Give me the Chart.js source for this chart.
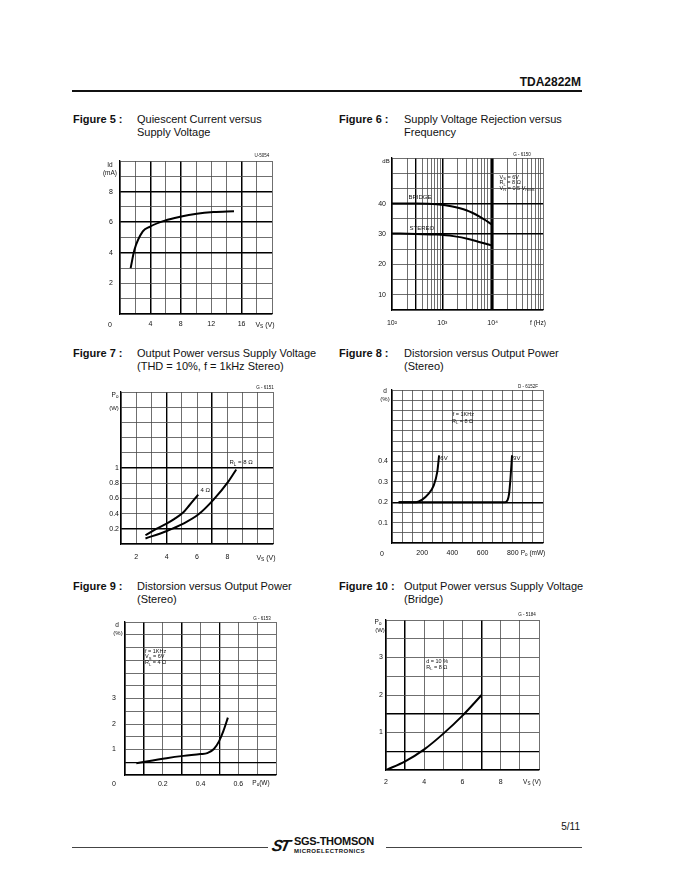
<!DOCTYPE html>
<html>
<head>
<meta charset="utf-8">
<script src="https://cdn.jsdelivr.net/npm/chart.js@4.4.1/dist/chart.umd.min.js"></script>
<style>
  body { margin: 0; width: 680px; height: 880px; background: #fff; position: relative; overflow: hidden;
         font-family: "Liberation Sans", Arial, sans-serif; color: #111; }
  .t { position: absolute; white-space: nowrap; }
  .cap { font-size: 11px; line-height: 13px; }
  .cap b { position: absolute; left: 0; }
  .cap span { position: absolute; }
  canvas { position: absolute; }
  sub { font-size: 70%; vertical-align: -1px; line-height: 0; }
</style>
</head>
<body>

<div class="t" style="right:99px; top:75px; font-size:12px; font-weight:bold;">TDA2822M</div>
<div style="position:absolute; left:72px; top:90px; width:510px; height:1.5px; background:#111;"></div>

<div class="t cap" style="left:73px; top:113px;"><b>Figure 5 :</b><span style="left:64px;">Quiescent Current versus<br>Supply Voltage</span></div>
<div class="t cap" style="left:339px; top:113px;"><b>Figure 6 :</b><span style="left:65px;">Supply Voltage Rejection versus<br>Frequency</span></div>
<div class="t cap" style="left:73px; top:347px;"><b>Figure 7 :</b><span style="left:64px;">Output Power versus Supply Voltage<br>(THD = 10%, f = 1kHz Stereo)</span></div>
<div class="t cap" style="left:339px; top:347px;"><b>Figure 8 :</b><span style="left:65px;">Distorsion versus Output Power<br>(Stereo)</span></div>
<div class="t cap" style="left:73px; top:580px;"><b>Figure 9 :</b><span style="left:64px;">Distorsion versus Output Power<br>(Stereo)</span></div>
<div class="t cap" style="left:339px; top:580px;"><b>Figure 10 :</b><span style="left:65px;">Output Power versus Supply Voltage<br>(Bridge)</span></div>

<div class="t" style="right:100px; top:821px; font-size:10px;">5/11</div>
<div style="position:absolute; left:72px; top:847px; width:196px; height:1px; background:#444;"></div>
<div style="position:absolute; left:386px; top:847px; width:196px; height:1px; background:#444;"></div>
<div class="t" style="left:272px; top:837px; font-size:16px; font-weight:bold; font-style:italic; letter-spacing:-2px; transform:skewX(-12deg);">ST</div>
<div class="t" style="left:294px; top:836px; font-size:11px; font-weight:bold; line-height:11px; letter-spacing:-0.3px;">SGS-THOMSON</div>
<div class="t" style="left:294px; top:848px; font-size:6px; font-weight:bold; line-height:7px; letter-spacing:0.5px;">MICROELECTRONICS</div>

<script>
// Figure 5: quiescent current vs supply voltage
var f5Vs = [1.4, 1.9, 3.0, 3.9, 5.9, 7.9, 10.1, 12.3, 15.0];
var f5Id = [3.0, 4.2, 5.4, 5.7, 6.1, 6.35, 6.55, 6.66, 6.72];
var f5XLabels = [4, 8, 12, 16];
var f5YLabels = [2, 4, 6, 8];

// Figure 6: SVR vs frequency
var f6BridgeF = [100, 300, 770, 1500, 3000, 5500, 10000];
var f6BridgeDb = [40, 40, 39.8, 39.1, 37.8, 35.7, 33.0];
var f6StereoF = [100, 300, 770, 1650, 3450, 10000];
var f6StereoDb = [30.2, 30.0, 29.8, 29.3, 28.3, 26.1];
var f6XLabels = [100, 1000, 10000];
var f6XText = ['10²', '10³', '10⁴'];
var f6YLabels = [10, 20, 30, 40];

// Figure 7: output power vs supply voltage (stereo)
var f7Vs4 = [2.61, 3.32, 3.97, 4.52, 5.07, 5.5, 6.08];
var f7Po4 = [0.115, 0.20, 0.265, 0.33, 0.41, 0.51, 0.65];
var f7Vs8 = [2.61, 3.97, 5.07, 6.08, 7.09, 8.07, 8.58];
var f7Po8 = [0.072, 0.168, 0.265, 0.387, 0.584, 0.824, 0.98];
var f7XLabels = [2, 4, 6, 8];
var f7YLabels = [0.2, 0.4, 0.6, 0.8, 1];
var f7YText = ['0.2', '0.4', '0.6', '0.8', '1'];

// Figure 8: distortion vs output power (stereo, 8 ohm)
var f8Po6 = [44, 160, 200, 240, 275, 300, 312];
var f8D6 = [0.2, 0.2, 0.213, 0.24, 0.28, 0.35, 0.43];
var f8Po9 = [44, 160, 750, 765, 775, 785, 795];
var f8D9 = [0.2, 0.2, 0.2, 0.21, 0.24, 0.32, 0.43];
var f8XLabels = [200, 400, 600, 800];
var f8YLabels = [0.1, 0.2, 0.3, 0.4];

// Figure 9: distortion vs output power (stereo, 4 ohm)
var f9Po = [0.06, 0.22, 0.31, 0.40, 0.436, 0.471, 0.498, 0.521, 0.545];
var f9D = [0.46, 0.66, 0.75, 0.82, 0.86, 1.02, 1.32, 1.72, 2.25];
var f9XLabels = [0.2, 0.4, 0.6];
var f9YLabels = [1, 2, 3];

// Figure 10: output power vs supply voltage (bridge)
var f10Vs = [2, 3, 4, 5, 6, 7];
var f10Po = [0, 0.23, 0.55, 0.97, 1.45, 2.0];
var f10XLabels = [2, 4, 6, 8];
var f10YLabels = [1, 2, 3];

var FONT = '"Liberation Sans", Arial, sans-serif';

function steps(a, b, s) {
  var out = [];
  for (var i = 0; a + i * s <= b + 1e-9; i++) out.push(+(a + i * s).toFixed(6));
  return out;
}
function near(list, v) {
  for (var i = 0; i < list.length; i++) if (Math.abs(list[i] - v) < 1e-6 * Math.max(1, Math.abs(v))) return i;
  return -1;
}

function drawRich(ctx, text, x, y, size) {
  var parts = text.split(/(_\{[^}]*\})/);
  ctx.textBaseline = 'middle';
  ctx.textAlign = 'left';
  ctx.fillStyle = '#111';
  parts.forEach(function (p) {
    if (!p) return;
    var sub = p.indexOf('_{') === 0;
    var t = sub ? p.slice(2, -1) : p;
    ctx.font = (sub ? size * 0.75 : size) + 'px ' + FONT;
    ctx.fillText(t, x, sub ? y + size * 0.3 : y);
    x += ctx.measureText(t).width;
  });
}

Chart.register({
  id: 'notes',
  afterDatasetsDraw: function (chart, args, opts) {
    var ctx = chart.ctx;
    ctx.save();
    (opts.items || []).forEach(function (n) {
      drawRich(ctx, n.text, chart.scales.x.getPixelForValue(n.x), chart.scales.y.getPixelForValue(n.y), n.size || 6);
    });
    ctx.restore();
  }
});

function axis(o, horiz) {
  var major = o.major || [];
  function heavy(v) {
    for (var i = 0; i < major.length; i++) if (Math.abs(major[i][0] - v) < 1e-6 * Math.max(1, v)) return major[i][1];
    return 0;
  }
  return {
    type: o.type || 'linear',
    min: o.grid[0],
    max: o.grid[o.grid.length - 1],
    border: { display: true, color: '#000', width: 1.3 },
    grid: {
      drawTicks: false,
      color: function (c) { return heavy(c.tick.value) ? '#000' : '#4a4a4a'; },
      lineWidth: function (c) { return heavy(c.tick.value) || 0.8; }
    },
    afterBuildTicks: function (s) { s.ticks = o.grid.map(function (v) { return { value: v }; }); },
    afterFit: function (s) {
      if (horiz) s.height = 18; else s.width = 20;
      s.paddingLeft = s.paddingRight = s.paddingTop = s.paddingBottom = 0;
    },
    ticks: {
      autoSkip: false, maxRotation: 0, minRotation: 0, padding: o.pad, color: '#111',
      font: { family: FONT, size: 7 },
      callback: function (v) {
        var i = near(o.labels, v);
        return i < 0 ? '' : (o.text ? o.text[i] : String(o.labels[i]));
      }
    }
  };
}

function makeChart(box, xo, yo, series, notes) {
  var cv = document.createElement('canvas');
  var w = box[2] - box[0] + 50, h = box[3] - box[1] + 37;
  cv.width = w; cv.height = h;
  cv.style.left = (box[0] - 30) + 'px';
  cv.style.top = (box[1] - 12) + 'px';
  cv.style.width = w + 'px';
  cv.style.height = h + 'px';
  document.body.appendChild(cv);
  return new Chart(cv, {
    type: 'line',
    data: {
      datasets: series.map(function (s) {
        return {
          data: s[0].map(function (x, i) { return { x: x, y: s[1][i] }; }),
          borderColor: '#000', borderWidth: 2, pointRadius: 0,
          cubicInterpolationMode: 'monotone', fill: false
        };
      })
    },
    options: {
      responsive: false, animation: false,
      layout: { padding: { left: 10, top: 12, right: 20, bottom: 7 } },
      plugins: { legend: { display: false }, tooltip: { enabled: false }, notes: { items: notes } },
      scales: { x: axis(xo, true), y: axis(yo, false) }
    }
  });
}

function label(html, x, y, size, center) {
  var d = document.createElement('div');
  d.className = 't';
  d.innerHTML = html;
  d.style.fontSize = size + 'px';
  d.style.lineHeight = '1';
  d.style.left = x + 'px';
  d.style.top = y + 'px';
  d.style.transform = center ? 'translate(-50%,-50%)' : 'translate(0,-50%)';
  document.body.appendChild(d);
}

// ---- Figure 5
makeChart([120, 161, 272, 314],
  { grid: steps(0, 20, 2), labels: f5XLabels, pad: 6, major: [[4, 1.5], [8, 1.5], [16, 1.5]] },
  { grid: steps(0, 10, 1), labels: f5YLabels, pad: 7, major: [[4, 1.5], [6, 1.5], [8, 1.5]] },
  [[f5Vs, f5Id]], []);
label('Id', 110, 165, 6.5, true);
label('(mA)', 110, 173, 6.5, true);
label('0', 110, 324, 7, true);
label('V<sub>S</sub> (V)', 265, 324, 7, true);
label('U-5054', 262, 156, 4.5, true);

// ---- Figure 6
var f6Grid = [];
[100, 1000, 10000].forEach(function (d) { for (var m = 1; m <= 9; m++) f6Grid.push(m * d); });
f6Grid.push(100000);
makeChart([392, 158, 543, 310],
  { type: 'logarithmic', grid: f6Grid, labels: f6XLabels, text: f6XText, pad: 9,
    major: [[300, 1.4], [1000, 1.5], [10000, 2.6]] },
  { grid: steps(5, 55, 5), labels: f6YLabels, pad: 6, major: [[30, 1.5], [40, 1.5]] },
  [[f6BridgeF, f6BridgeDb], [f6StereoF, f6StereoDb]],
  [
    { x: 213, y: 42.2, text: 'BRIDGE' },
    { x: 223, y: 32.0, text: 'STEREO' },
    { x: 13700, y: 48.6, text: 'V_{S} = 6V', size: 5.5 },
    { x: 13700, y: 46.8, text: 'R_{L} = 8 Ω', size: 5.5 },
    { x: 13700, y: 44.9, text: 'V_{R} = 0.5 V_{RMS}', size: 5.5 }
  ]);
label('dB', 386, 161, 6, true);
label('f (Hz)', 538, 323, 6.5, true);
label('G - 6150', 522, 155, 4.5, true);

// ---- Figure 7
makeChart([121, 392, 273, 544],
  { grid: steps(1, 11, 1), labels: f7XLabels, pad: 9, major: [[4, 1.4], [7, 1.5]] },
  { grid: steps(0, 2, 0.2), labels: f7YLabels, text: f7YText, pad: 2, major: [[0.2, 1.4], [1, 1.5]] },
  [[f7Vs4, f7Po4], [f7Vs8, f7Po8]],
  [
    { x: 6.23, y: 0.70, text: '4 Ω' },
    { x: 8.14, y: 1.07, text: 'R_{L} = 8 Ω' }
  ]);
label('P<sub>o</sub>', 115, 395, 6.5, true);
label('(W)', 114, 408, 6, true);
label('V<sub>S</sub> (V)', 266, 556.5, 7, true);
label('G - 6151', 265, 388, 4.5, true);

// ---- Figure 8
var f8Grid = [];
for (var i = 0; i <= 15; i++) f8Grid.push(i * 1000 / 15);
makeChart([392, 390, 543, 543],
  { grid: f8Grid, labels: f8XLabels, pad: 6, major: [] },
  { grid: steps(0, 0.75, 0.05), labels: f8YLabels, pad: 4, major: [[0.2, 1.4]] },
  [[f8Po6, f8D6], [f8Po9, f8D9]],
  [
    { x: 320, y: 0.413, text: '6V' },
    { x: 802, y: 0.413, text: '9V' },
    { x: 402, y: 0.628, text: 'f = 1KHz', size: 5.5 },
    { x: 397, y: 0.595, text: 'R_{L} = 8 Ω', size: 5.5 }
  ]);
label('d', 385, 391, 6.5, true);
label('(%)', 385, 399, 6, true);
label('0', 382, 553, 7, true);
label('P<sub>o</sub> (mW)', 533, 553, 6.5, true);
label('D - 6152F', 528, 387, 4.5, true);

// ---- Figure 9
makeChart([125, 622, 276, 775],
  { grid: steps(0, 0.8, 0.1), labels: f9XLabels, pad: 5, major: [[0.1, 1.5], [0.3, 1.5], [0.5, 1.3]] },
  { grid: steps(0, 6, 0.5), labels: f9YLabels, pad: 9, major: [[0.5, 1.3]] },
  [[f9Po, f9D]],
  [
    { x: 0.106, y: 4.85, text: 'f = 1KHz', size: 5.5 },
    { x: 0.106, y: 4.63, text: 'V_{S} = 6V', size: 5.5 },
    { x: 0.106, y: 4.40, text: 'R_{L} = 4 Ω', size: 5.5 }
  ]);
label('d', 117, 625, 6.5, true);
label('(%)', 118, 633, 6, true);
label('0', 114, 783, 7, true);
label('P<sub>o</sub>(W)', 261, 783, 6.5, true);
label('G - 6153', 262, 619, 4.5, true);

// ---- Figure 10
makeChart([386, 620, 539, 770],
  { grid: steps(2, 10, 1), labels: f10XLabels, pad: 8, major: [[3, 1.5], [7, 1.5]] },
  { grid: steps(0, 4, 0.5), labels: f10YLabels, pad: 3, major: [[1.5, 1.5], [0.5, 1.3]] },
  [[f10Vs, f10Po]],
  [
    { x: 4.1, y: 2.89, text: 'd = 10 %', size: 5.5 },
    { x: 4.1, y: 2.74, text: 'R_{L} = 8 Ω', size: 5.5 }
  ]);
label('P<sub>o</sub>', 378, 622, 6.5, true);
label('(W)', 380, 630, 6, true);
label('V<sub>S</sub> (V)', 532, 781.5, 6.5, true);
label('G - 5184', 527, 615, 4.5, true);
</script>
</body>
</html>
